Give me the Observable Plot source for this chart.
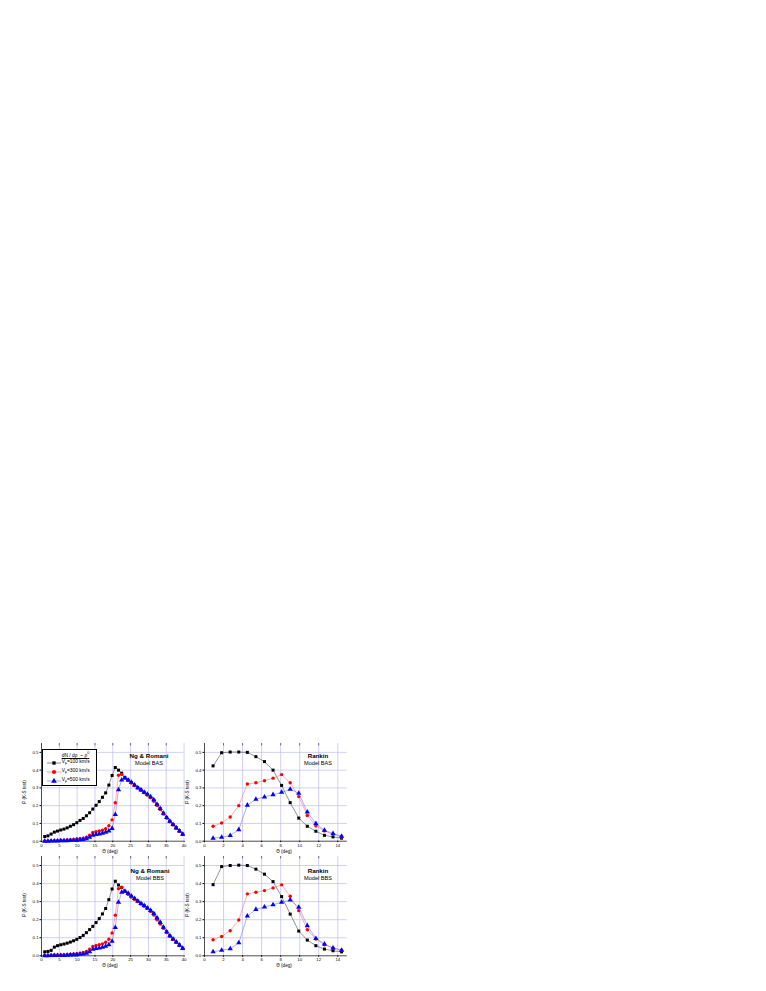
<!DOCTYPE html>
<html><head><meta charset="utf-8">
<script src="https://cdn.jsdelivr.net/npm/d3@7"></script>
<script src="https://cdn.jsdelivr.net/npm/@observablehq/plot@0.6"></script>
<style>
html,body{margin:0;padding:0;background:#fff;}
#page{position:relative;width:766px;height:991px;overflow:hidden;font-family:"Liberation Sans",Arial,sans-serif;}
.lbl{position:absolute;white-space:nowrap;color:#000;line-height:1;}
.ptitle{position:absolute;white-space:nowrap;text-align:center;line-height:1;transform:translate(-50%,0);}
</style></head>
<body><div id="page"></div>
<script>
// ---------- data ----------
const thetaNR = [0.9,1.8,2.7,3.6,4.5,5.4,6.3,7.2,8.1,9.0,9.9,10.8,11.7,12.6,13.5,14.4,15.3,16.2,17.1,18.0,18.9,19.8,20.7,21.6,22.5,23.4,24.3,25.2,26.1,27.0,27.9,28.8,29.7,30.6,31.5,32.4,33.3,34.2,35.1,36.0,36.9,37.8,38.7,39.6];
const thetaR = [0.9,1.8,2.7,3.6,4.5,5.4,6.3,7.2,8.1,9.0,9.9,10.8,11.7,12.6,13.5,14.4];

// Ng & Romani, Model BAS
const nrBAS100 = [.026,.030,.040,.051,.057,.063,.068,.075,.084,.093,.104,.117,.128,.143,.160,.181,.202,.223,.247,.272,.316,.370,.415,.400,.383,.358,.343,.330,.315,.301,.288,.275,.262,.247,.230,.206,.183,.157,.133,.112,.094,.076,.058,.040];
const nrBAS300 = [.002,.002,.003,.003,.004,.005,.006,.007,.008,.010,.012,.014,.017,.023,.034,.049,.053,.057,.062,.070,.087,.120,.216,.371,.376,.355,.341,.328,.313,.299,.286,.273,.260,.244,.225,.201,.178,.153,.130,.109,.091,.073,.056,.038];
const nrBAS500 = [.000,.000,.001,.001,.001,.002,.002,.003,.004,.005,.006,.008,.010,.014,.022,.034,.038,.041,.045,.050,.058,.072,.150,.290,.345,.356,.345,.332,.316,.301,.289,.276,.264,.250,.233,.208,.184,.157,.133,.112,.094,.075,.057,.039];
// Ng & Romani, Model BBS
const nrBBS100 = [.022,.024,.030,.048,.056,.061,.065,.070,.076,.083,.091,.101,.113,.128,.145,.163,.184,.206,.232,.262,.311,.370,.413,.392,.378,.358,.343,.328,.315,.302,.289,.277,.264,.250,.232,.208,.183,.157,.132,.110,.092,.075,.060,.042];
const nrBBS300 = [.002,.002,.003,.004,.004,.005,.006,.007,.009,.010,.012,.015,.018,.024,.036,.052,.057,.061,.066,.075,.092,.126,.225,.372,.380,.356,.341,.326,.313,.300,.287,.275,.262,.246,.226,.200,.176,.152,.129,.108,.090,.073,.057,.040];
const nrBBS500 = [.000,.000,.001,.001,.001,.002,.002,.003,.004,.005,.006,.008,.010,.014,.022,.036,.040,.043,.047,.053,.061,.080,.157,.296,.352,.358,.346,.331,.317,.303,.290,.278,.265,.251,.234,.210,.185,.158,.133,.111,.093,.076,.059,.041];
// Rankin, Model BAS
const rBAS100 = [.424,.498,.502,.502,.500,.476,.448,.400,.314,.217,.130,.084,.056,.033,.024,.017];
const rBAS300 = [.084,.102,.136,.200,.322,.329,.340,.355,.375,.329,.251,.145,.087,.058,.039,.024];
const rBAS500 = [.017,.022,.032,.065,.203,.236,.249,.262,.275,.292,.270,.164,.099,.061,.043,.028];
// Rankin, Model BBS
const rBBS100 = [.394,.494,.500,.502,.500,.480,.452,.411,.328,.231,.137,.087,.056,.037,.028,.022];
const rBBS300 = [.089,.107,.139,.198,.343,.352,.361,.376,.393,.330,.250,.144,.093,.061,.043,.031];
const rBBS500 = [.022,.031,.039,.072,.220,.257,.270,.283,.296,.309,.269,.167,.096,.065,.043,.031];

const seriesNames = ["V_F=100 km/s","V_F=300 km/s","V_F=500 km/s"];
const yTicks = [0,0.1,0.2,0.3,0.4,0.5];
const xTicksNR = [0,5,10,15,20,25,30,35,40];
const xTicksR = [0,2,4,6,8,10,12,14];

// ---------- styles ----------
const markCol = ["#000000","#ff0000","#0000ff"];
const lineCol = ["#3a3a3a","#ff6a6a","#6a6aff"];
const symbols = ["square","circle","triangle"];
const symR = [1.7,1.7,1.95];
const gridCol = "#bcbcf2";
const FONT = "Liberation Sans, Arial, sans-serif";

const page = document.getElementById("page");

function panel(cfg){
  const mL=20,mR=6,mT=4,mB=12;
  const W = cfg.x1-cfg.x0, H = cfg.y1-cfg.y0;
  const series = cfg.ys.map((ys,i)=>cfg.xs.map((x,j)=>({x, y: ys[j], s: seriesNames[i]})));
  const marks = [
    Plot.ruleY(yTicks.slice(1), {stroke:gridCol, strokeWidth:0.7}),
    Plot.ruleX(cfg.xTicks.slice(1), {stroke:gridCol, strokeWidth:0.7}),
    Plot.axisY({ticks:yTicks, tickFormat:d3.format(".1f"), tickSize:1.5, tickPadding:1.5, label:null, fontSize:4.3}),
    Plot.axisX({ticks:cfg.xTicks, tickFormat:d3.format("d"), tickSize:1.5, tickPadding:1, label:null, fontSize:4.3}),
    Plot.ruleX(cfg.xTicks.slice(1,-1), {y1:cfg.yMax*0.975, y2:cfg.yMax, stroke:"#000", strokeWidth:0.5}),
    Plot.ruleY([0], {stroke:"#000", strokeWidth:0.7}),
    Plot.ruleX([0], {stroke:"#000", strokeWidth:0.7})
  ];
  series.forEach((d,i)=>{
    marks.push(Plot.line(d,{x:"x",y:"y",stroke:lineCol[i],strokeWidth:0.55}));
  });
  series.forEach((d,i)=>{
    marks.push(Plot.dot(d,{x:"x",y:"y",symbol:symbols[i],r:symR[i],fill:markCol[i],stroke:"none"}));
  });
  const svg = Plot.plot({
    width: mL+W+mR, height: mT+H+mB,
    marginLeft:mL, marginRight:mR, marginTop:mT, marginBottom:mB,
    x:{domain:cfg.xDomain}, y:{domain:[0,cfg.yMax]},
    style:{background:"transparent", overflow:"visible", fontFamily:FONT, fontSize:"4.3px"},
    marks
  });
  svg.style.position="absolute";
  svg.style.left=(cfg.x0-mL)+"px";
  svg.style.top=(cfg.y0-mT)+"px";
  svg.style.maxWidth="none";
  page.appendChild(svg);

  // axis titles
  const xl = document.createElement("div");
  xl.className="ptitle"; xl.style.fontSize="4.6px";
  xl.style.left=cfg.xLabelX+"px"; xl.style.top=cfg.xLabelY+"px";
  xl.textContent="Θ (deg)";
  page.appendChild(xl);
  const yl = document.createElement("div");
  yl.className="lbl"; yl.style.fontSize="4.6px";
  yl.style.left=cfg.yLabelX+"px"; yl.style.top=((cfg.y0+cfg.y1)/2)+"px";
  yl.style.transform="translate(-50%,-50%) rotate(-90deg)";
  yl.textContent="P (K-S test)";
  page.appendChild(yl);
  // panel titles
  const t1 = document.createElement("div");
  t1.className="ptitle"; t1.style.fontSize="6.2px"; t1.style.fontWeight="bold";
  t1.style.left=cfg.tX+"px"; t1.style.top=cfg.tY+"px"; t1.textContent=cfg.t1;
  page.appendChild(t1);
  const t2 = document.createElement("div");
  t2.className="ptitle"; t2.style.fontSize="5.6px";
  t2.style.left=cfg.tX+"px"; t2.style.top=(cfg.tY+8)+"px"; t2.textContent=cfg.t2;
  page.appendChild(t2);
}

const yMax = 0.55;
panel({x0:40.7,x1:183.3,y0:743.3,y1:841,xDomain:[0,40],xTicks:xTicksNR,yMax,xs:thetaNR,ys:[nrBAS100,nrBAS300,nrBAS500],
  xLabelX:110,xLabelY:849.5,yLabelX:25,t1:"Ng & Romani",t2:"Model BAS",tX:149,tY:753});
panel({x0:204,x1:346.8,y0:743.3,y1:841,xDomain:[0,15],xTicks:xTicksR,yMax,xs:thetaR,ys:[rBAS100,rBAS300,rBAS500],
  xLabelX:284,xLabelY:849.5,yLabelX:188,t1:"Rankin",t2:"Model BAS",tX:318,tY:753});
panel({x0:40.7,x1:183.3,y0:855.7,y1:955,xDomain:[0,40],xTicks:xTicksNR,yMax,xs:thetaNR,ys:[nrBBS100,nrBBS300,nrBBS500],
  xLabelX:110,xLabelY:963.5,yLabelX:25,t1:"Ng & Romani",t2:"Model BBS",tX:150,tY:868});
panel({x0:204,x1:346.8,y0:855.7,y1:955,xDomain:[0,15],xTicks:xTicksR,yMax,xs:thetaR,ys:[rBBS100,rBBS300,rBBS500],
  xLabelX:284,xLabelY:963.5,yLabelX:188,t1:"Rankin",t2:"Model BBS",tX:318,tY:868});

// ---------- legend ----------
const leg = document.createElement("div");
leg.style.cssText="position:absolute;left:41.7px;top:749px;width:55.5px;height:36.5px;border:0.6px solid #000;background:#fff;box-sizing:border-box;font-size:4.9px;";
page.appendChild(leg);
const lt = document.createElement("div");
lt.className="lbl";
lt.style.cssText+="left:19px;top:2px;text-decoration:underline;font-size:4.9px;";
lt.innerHTML="dN / dρ &nbsp;~ ρ<sup style='font-size:3.5px'>0</sup>";
leg.appendChild(lt);
seriesNames.forEach((name,i)=>{
  const rowY = 12.5 + i*9;
  const s = document.createElementNS("http://www.w3.org/2000/svg","svg");
  s.setAttribute("width","16"); s.setAttribute("height","8");
  s.style.cssText=`position:absolute;left:3px;top:${rowY-4}px;overflow:visible`;
  const ln = document.createElementNS(s.namespaceURI,"line");
  ln.setAttribute("x1","1");ln.setAttribute("x2","15");ln.setAttribute("y1","4");ln.setAttribute("y2","4");
  ln.setAttribute("stroke",lineCol[i]);ln.setAttribute("stroke-width","0.6");
  s.appendChild(ln);
  const sym = d3.symbol().type([d3.symbolSquare,d3.symbolCircle,d3.symbolTriangle][i]).size([11,14,14][i])();
  const p = document.createElementNS(s.namespaceURI,"path");
  p.setAttribute("d",sym);p.setAttribute("transform","translate(8,4)");p.setAttribute("fill",markCol[i]);
  s.appendChild(p);
  leg.appendChild(s);
  const tx = document.createElement("div");
  tx.className="lbl";
  tx.style.cssText+=`left:19px;top:${rowY-2.6}px;font-size:4.9px;`;
  const parts = name.split("=");
  tx.innerHTML = "V<sub style='font-size:3.3px'>F</sub>=" + parts[1];
  leg.appendChild(tx);
});
</script></body></html>
